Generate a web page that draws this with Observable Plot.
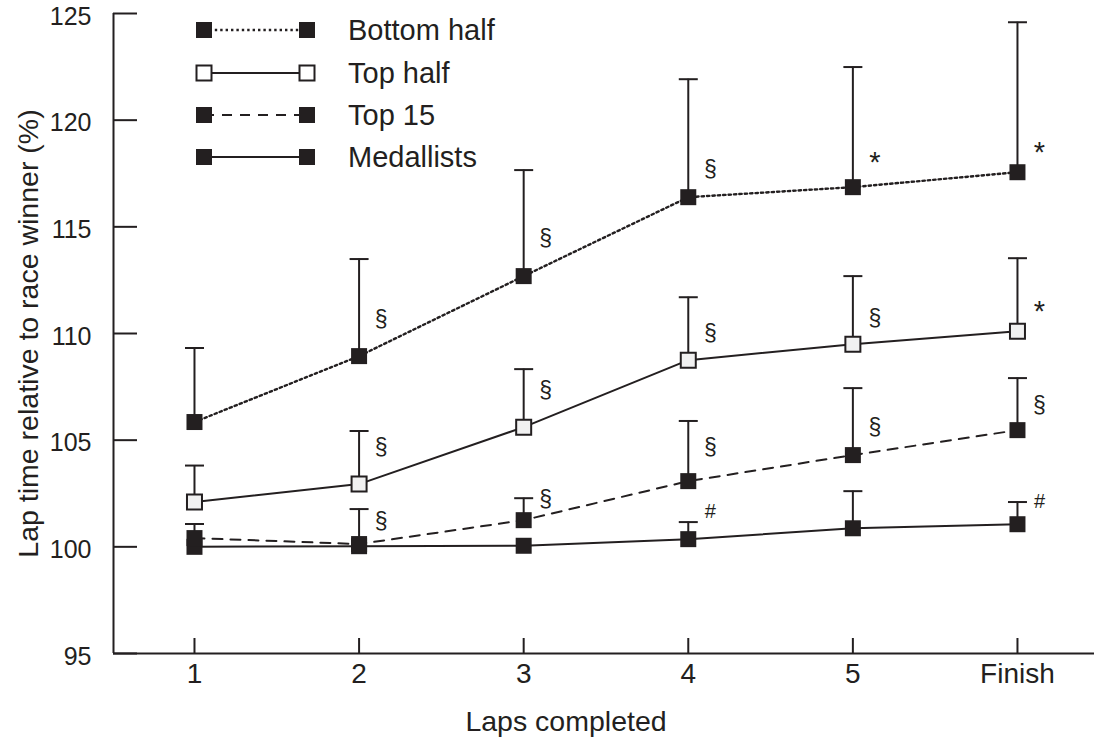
<!DOCTYPE html>
<html><head><meta charset="utf-8">
<script src="https://cdn.jsdelivr.net/npm/d3@7"></script>
<script src="https://cdn.jsdelivr.net/npm/@observablehq/plot@0.6"></script>
<style>body{margin:0;background:#fff}#chart{width:1094px;height:740px}</style>
</head><body><div id="chart"></div>
<script>
// ---- data ----
const laps = [1, 2, 3, 4, 5, 6];
const lapLabels = ["1", "2", "3", "4", "5", "Finish"];
const yTicks = [95, 100, 105, 110, 115, 120, 125];
const seriesNames = ["Bottom half", "Top half", "Top 15", "Medallists"];

const bottomHalf    = [105.85, 108.94, 112.69, 116.39, 116.86, 117.56];
const bottomHalfErr = [109.32, 113.49, 117.66, 121.92, 122.49, 124.59];
const topHalf       = [102.10, 102.94, 105.61, 108.75, 109.50, 110.11];
const topHalfErr    = [103.81, 105.43, 108.33, 111.70, 112.69, 113.53];
const top15         = [100.41, 100.13, 101.25, 103.08, 104.30, 105.47];
const top15Err      = [101.07, 101.77, 102.28, 105.90, 107.44, 107.91];
const medallists    = [100.00, 100.03, 100.05, 100.36, 100.87, 101.06];
const medallistsErr = [null, null, null, 101.16, 102.61, 102.10];

const bottomHalfSig  = ["", "§", "§", "§", "*", "*"];
const bottomHalfSigY = [null, 110.63, 114.47, 117.66, 118.27, 118.74];
const topHalfSig     = ["", "§", "§", "§", "§", "*"];
const topHalfSigY    = [null, 104.67, 107.33, 110.00, 110.72, 111.28];
const top15Sig       = ["", "§", "§", "§", "§", "§"];
const top15SigY      = [null, 101.16, 102.19, 104.63, 105.57, 106.64];
const medallistsSig  = ["", "", "", "#", "", "#"];
const medallistsSigY = [null, null, null, 101.63, null, 102.10];

const xTitle = "Laps completed";
const yTitle = "Lap time relative to race winner (%)";

// ---- build table ----
const INK = "#231f20";
const FONT = "'Liberation Sans', Arial, Helvetica, sans-serif";
const src = {
  "Bottom half": [bottomHalf, bottomHalfErr, bottomHalfSig, bottomHalfSigY],
  "Top half": [topHalf, topHalfErr, topHalfSig, topHalfSigY],
  "Top 15": [top15, top15Err, top15Sig, top15SigY],
  "Medallists": [medallists, medallistsErr, medallistsSig, medallistsSigY]
};
const rows = seriesNames.flatMap(name => laps.map((lap, i) => ({
  series: name, lap,
  value: src[name][0][i], upper: src[name][1][i],
  sig: src[name][2][i], sigY: src[name][3][i]
})));
const look = {
  "Bottom half": {dash: "2.4,3", width: 2.4, fill: INK, stroke: "none"},
  "Top half": {dash: null, width: 2, fill: "#f1f1f1", stroke: INK},
  "Top 15": {dash: "10,8", width: 2, fill: INK, stroke: "none"},
  "Medallists": {dash: null, width: 2, fill: INK, stroke: "none"}
};

const square = {draw(ctx) { ctx.rect(-8, -8, 16, 16); }};
const squareO = {draw(ctx) { ctx.rect(-7.5, -7.5, 15, 15); }};
const cap = {draw(ctx) { ctx.moveTo(-9.5, 0); ctx.lineTo(9.5, 0); }};

const xDomain = [0.508, 6.468];
const yDomain = [95, 125];
const withErr = rows.filter(d => d.upper != null);

const marks = [
  Plot.ruleX(withErr, {x: "lap", y1: "value", y2: "upper", stroke: INK, strokeWidth: 2}),
  Plot.dot(withErr, {x: "lap", y: "upper", symbol: cap, r: 5, stroke: INK, strokeWidth: 2, fill: "none"}),
  ...seriesNames.map(name => Plot.line(rows.filter(d => d.series === name), {
    x: "lap", y: "value", stroke: INK, strokeWidth: look[name].width,
    strokeDasharray: look[name].dash
  })),
  ...seriesNames.slice().reverse().map(name => Plot.dot(rows.filter(d => d.series === name), {
    x: "lap", y: "value", symbol: look[name].stroke === "none" ? square : squareO, r: 5,
    fill: look[name].fill, stroke: look[name].stroke, strokeWidth: 2
  })),
  Plot.text(rows.filter(d => d.sig && d.sig !== "*"), {x: "lap", y: "sigY", text: "sig", dx: 22,
    fontSize: d => d.sig === "#" ? 20 : 23, fill: INK}),
  Plot.text(rows.filter(d => d.sig === "*"), {x: "lap", y: "sigY", text: "sig", dx: 22, dy: 6,
    fontSize: 29, fill: INK}),
  Plot.ruleY([yDomain[0]], {stroke: INK, strokeWidth: 2}),
  Plot.ruleX([xDomain[0]], {stroke: INK, strokeWidth: 2}),
  Plot.axisY(yTicks, {anchor: "left", tickSize: -24, strokeWidth: 2, tickFormat: () => "", label: null}),
  Plot.axisY(yTicks, {anchor: "left", tickSize: 0, tickPadding: 22, dy: 3, fontSize: 25, fill: INK, label: null}),
  Plot.axisX(laps, {anchor: "bottom", tickSize: -15, strokeWidth: 2, tickFormat: () => "", label: null}),
  Plot.axisX(laps, {anchor: "bottom", tickSize: 0, tickPadding: 10, fontSize: 28, fill: INK, label: null,
    tickFormat: d => lapLabels[laps.indexOf(d)]}),
  Plot.text([yTitle], {frameAnchor: "left", textAnchor: "middle", lineAnchor: "middle", rotate: -90, dx: -85,
    fontSize: 28.5, fill: INK, text: d => d}),
  Plot.text([xTitle], {frameAnchor: "bottom", textAnchor: "middle", lineAnchor: "middle", dy: 68, dx: -38,
    fontSize: 28.5, fill: INK, text: d => d})
];

const chart = Plot.plot({
  width: 1094, height: 740,
  marginLeft: 113, marginRight: 0, marginTop: 13, marginBottom: 87,
  x: {type: "linear", domain: xDomain},
  y: {domain: yDomain},
  style: {fontFamily: FONT, color: INK, background: "white", overflow: "visible"},
  marks
});
document.getElementById("chart").appendChild(chart);

// ---- legend (inside plot area, top-left) ----
const svg = d3.select(chart.tagName.toLowerCase() === "svg" ? chart : chart.querySelector("svg"));
const lg = svg.append("g").attr("class", "legend").attr("text-anchor", "start");
const rowY = [30, 73, 115, 157];
seriesNames.forEach((name, i) => {
  const y = rowY[i], L = look[name];
  lg.append("line").attr("x1", 204).attr("x2", 307).attr("y1", y).attr("y2", y)
    .attr("stroke", INK).attr("stroke-width", L.width).attr("stroke-dasharray", L.dash);
  [204, 307].forEach(x => {
    if (L.stroke === "none") lg.append("rect").attr("x", x - 8).attr("y", y - 8).attr("width", 16).attr("height", 16).attr("fill", INK);
    else lg.append("rect").attr("x", x - 7.5).attr("y", y - 7.5).attr("width", 15).attr("height", 15).attr("fill", "white").attr("stroke", INK).attr("stroke-width", 2);
  });
  lg.append("text").attr("x", 348).attr("y", y).attr("dy", "0.36em").attr("font-size", 29)
    .attr("text-anchor", "start").attr("fill", INK).attr("font-family", FONT).text(name);
});
</script></body></html>
